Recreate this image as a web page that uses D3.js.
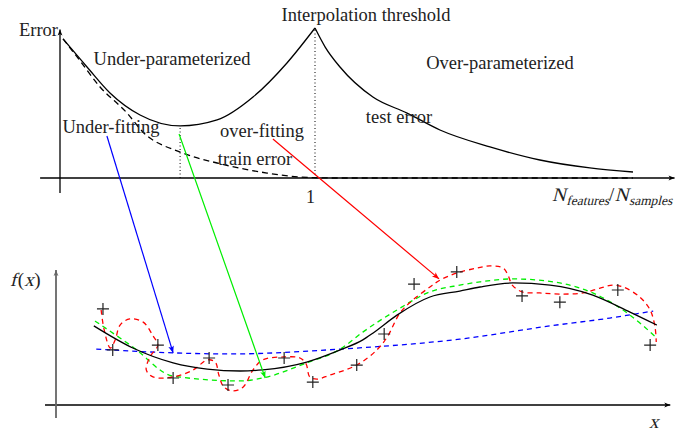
<!DOCTYPE html>
<html><head><meta charset="utf-8">
<script src="https://cdn.jsdelivr.net/npm/d3@7"></script>
<style>body{margin:0;background:#fff}svg{display:block}</style>
</head><body><svg id="c" width="684" height="431"></svg>
<script>
// ---------- Top panel data (x = N_features/N_samples, y = error) ----------
const testLeftX  = [0.012, 0.106, 0.196, 0.314, 0.471, 0.616, 0.757, 0.890, 1.0];
const testLeftY  = [0.927, 0.740, 0.567, 0.420, 0.347, 0.387, 0.540, 0.767, 1.0];
const testRightX = [1.0, 1.04, 1.098, 1.227, 1.361, 1.490, 1.686, 1.882, 2.078, 2.247];
const testRightY = [1.0, 0.873, 0.740, 0.540, 0.433, 0.320, 0.207, 0.120, 0.067, 0.040];
const trainX = [0.012, 0.067, 0.157, 0.263, 0.325, 0.471, 0.616, 0.812, 0.941, 1.07, 2.247];
const trainY = [0.927, 0.807, 0.607, 0.433, 0.307, 0.173, 0.100, 0.033, 0.007, 0.0, 0.0];
const topTicks = [1];
const optimumX = 0.471, optimumY = 0.347;

// ---------- Bottom panel data (x, f(x)) ----------
const pointsX = [0.77, 0.93, 1.67, 1.92, 2.51, 2.82, 3.74, 4.21, 4.93, 5.38, 5.87, 6.57, 7.64, 8.26, 9.21, 9.74];
const pointsY = [3.56, 2.04, 2.22, 1.00, 1.74, 0.74, 1.74, 0.85, 1.48, 2.63, 4.48, 4.93, 4.04, 3.81, 4.26, 2.22];

const trueX = [0.62, 1.26, 1.92, 2.48, 3.02, 3.39, 4.11, 4.66, 5.03, 5.20, 5.59, 6.13, 6.62, 6.95, 7.49, 8.10, 8.80, 9.41, 9.85];
const trueY = [2.93, 2.11, 1.56, 1.33, 1.26, 1.30, 1.59, 2.04, 2.41, 2.67, 3.33, 4.00, 4.22, 4.37, 4.52, 4.44, 4.07, 3.44, 2.96];

const underX = [0.66, 1.92, 2.85, 4.66, 6.62, 8.10, 9.08, 9.79];
const underY = [2.07, 1.93, 1.89, 2.07, 2.44, 2.93, 3.22, 3.48];

const goodX = [0.64, 1.26, 1.92, 3.02, 3.39, 4.11, 4.66, 5.03, 5.59, 6.13, 6.62, 6.95, 7.49, 8.26, 8.80, 9.41, 9.85];
const goodY = [3.11, 2.15, 1.07, 0.89, 1.00, 1.56, 2.07, 2.70, 3.52, 4.19, 4.44, 4.56, 4.67, 4.52, 4.15, 3.33, 2.48];

const overX = [0.74, 0.79, 0.89, 0.97, 1.05, 1.21, 1.43, 1.59, 1.67, 1.54, 1.48, 1.59, 1.92, 2.25, 2.48, 2.61, 2.67, 2.75, 2.90, 3.07, 3.23, 3.39, 3.74, 4.00, 4.10, 4.16, 4.28, 4.49, 4.93, 5.26, 5.43, 5.64, 5.85, 6.13, 6.30, 6.57, 6.90, 7.11, 7.33, 7.41, 7.48, 7.64, 7.93, 8.26, 8.64, 8.92, 9.13, 9.30, 9.57, 9.74, 9.82, 9.84];
const overY = [3.52, 2.78, 2.11, 2.41, 2.96, 3.19, 3.07, 2.56, 2.22, 1.78, 1.30, 1.04, 1.04, 1.30, 1.67, 1.59, 1.11, 0.67, 0.52, 0.67, 1.30, 1.67, 1.78, 1.74, 1.52, 1.04, 0.96, 1.11, 1.48, 2.04, 2.52, 3.41, 3.89, 4.37, 4.63, 4.89, 5.07, 5.15, 5.07, 4.81, 4.44, 4.19, 4.15, 4.11, 4.15, 4.33, 4.44, 4.37, 4.00, 3.52, 2.89, 2.33];

// annotation arrows: start in top-panel units, end in bottom-panel units
const arrowNames = ["under", "good", "over"];
const arrowStartX = [0.184, 0.467, 0.835];
const arrowStartY = [0.280, 0.293, 0.260];
const arrowEndX = [1.92, 3.43, 6.28];
const arrowEndY = [1.93, 1.00, 4.67];

// ---------- drawing ----------
const svg = d3.select("#c");
const xT = d3.scaleLinear().domain([0, 2.4]).range([60, 672]);
const yT = d3.scaleLinear().domain([0, 1]).range([178, 28]);
const xB = d3.scaleLinear().domain([0, 10]).range([56, 666]);
const yB = d3.scaleLinear().domain([0, 5]).range([405, 270]);

const colors = {under: "#0000ff", good: "#00ee00", over: "#ff0000", black: "#000"};
const defs = svg.append("defs");
function marker(id, col, w, h) {
  defs.append("marker").attr("id", id).attr("viewBox", "0 -5 10 10")
    .attr("refX", 10).attr("refY", 0).attr("markerWidth", w).attr("markerHeight", h)
    .attr("markerUnits", "userSpaceOnUse").attr("orient", "auto")
    .append("path").attr("d", "M0,-4L10,0L0,4L2.5,0Z").attr("fill", col);
}
marker("ax", "#000", 8, 6);
marker("axg", "#666", 8, 6);
marker("a-under", colors.under, 9, 7);
marker("a-good", colors.good, 9, 7);
marker("a-over", colors.over, 9, 7);

const zipT = (xs, ys) => xs.map((x, i) => [x, ys[i]]);

// top axes
svg.append("line").attr("x1", xT(-0.078)).attr("x2", xT(2.41)).attr("y1", yT(0)).attr("y2", yT(0))
  .attr("stroke", "#000").attr("stroke-width", 1.3).attr("marker-end", "url(#ax)");
svg.append("line").attr("x1", xT(0)).attr("x2", xT(0)).attr("y1", yT(-0.1)).attr("y2", yT(0.99))
  .attr("stroke", "#000").attr("stroke-width", 1.3).attr("marker-end", "url(#ax)");

const topAxis = d3.axisBottom(xT).tickValues(topTicks).tickSize(0).tickPadding(0).tickFormat(d3.format("d"));
const gA = svg.append("g").attr("transform", `translate(-5,${yT(0) + 12})`).call(topAxis);
gA.select(".domain").remove();
gA.selectAll("text").attr("font-family", "Liberation Serif, serif").attr("font-size", 18).attr("fill", "#222");

// dotted verticals
svg.append("line").attr("x1", xT(optimumX)).attr("x2", xT(optimumX)).attr("y1", yT(0)).attr("y2", yT(optimumY))
  .attr("stroke", "#000").attr("stroke-width", 1).attr("stroke-dasharray", "1,2.5");
svg.append("line").attr("x1", xT(1)).attr("x2", xT(1)).attr("y1", yT(0)).attr("y2", yT(1))
  .attr("stroke", "#000").attr("stroke-width", 1).attr("stroke-dasharray", "1,2.5");

const lineT = d3.line().x(d => xT(d[0])).y(d => yT(d[1])).curve(d3.curveMonotoneX);
svg.append("path").attr("d", lineT(zipT(testLeftX, testLeftY))).attr("fill", "none").attr("stroke", "#000").attr("stroke-width", 1.3);
svg.append("path").attr("d", lineT(zipT(testRightX, testRightY))).attr("fill", "none").attr("stroke", "#000").attr("stroke-width", 1.3);
svg.append("path").attr("d", lineT(zipT(trainX, trainY))).attr("fill", "none").attr("stroke", "#000").attr("stroke-width", 1.3)
  .attr("stroke-dasharray", "6,4");

// bottom axes
svg.append("line").attr("x1", xB(-0.18)).attr("x2", xB(10.07)).attr("y1", yB(0)).attr("y2", yB(0))
  .attr("stroke", "#000").attr("stroke-width", 1.3).attr("marker-end", "url(#ax)");
svg.append("line").attr("x1", xB(0)).attr("x2", xB(0)).attr("y1", yB(-0.48)).attr("y2", yB(5.0))
  .attr("stroke", "#666").attr("stroke-width", 1.8).attr("marker-end", "url(#axg)");

const lineB = d3.line().x(d => xB(d[0])).y(d => yB(d[1]));
function curveB(xs, ys, col, curve, dash) {
  svg.append("path").attr("d", lineB.curve(curve)(zipT(xs, ys))).attr("fill", "none")
    .attr("stroke", col).attr("stroke-width", 1.3).attr("stroke-dasharray", dash);
}
curveB(underX, underY, colors.under, d3.curveMonotoneX, "5,4");
curveB(goodX, goodY, colors.good, d3.curveMonotoneX, "5,4");
curveB(overX, overY, colors.over, d3.curveCatmullRom.alpha(0.5), "5,4");
curveB(trueX, trueY, colors.black, d3.curveMonotoneX, null);

// data points (crosses)
svg.append("g").selectAll("path").data(zipT(pointsX, pointsY)).join("path")
  .attr("transform", d => `translate(${xB(d[0])},${yB(d[1])})`)
  .attr("d", "M-6,0H6M0,-6V6").attr("stroke", "#222").attr("stroke-width", 1.2).attr("fill", "none");

// annotation arrows
arrowNames.forEach((n, i) => {
  svg.append("line").attr("x1", xT(arrowStartX[i])).attr("y1", yT(arrowStartY[i]))
    .attr("x2", xB(arrowEndX[i])).attr("y2", yB(arrowEndY[i]))
    .attr("stroke", colors[n]).attr("stroke-width", 1.2).attr("marker-end", `url(#a-${n})`);
});

// text labels
const font = "Liberation Serif, serif";
function label(t, x, y, anchor = "start", size = 18.5) {
  return svg.append("text").attr("x", x).attr("y", y).attr("text-anchor", anchor)
    .attr("font-family", font).attr("font-size", size).attr("fill", "#222").text(t);
}
label("Error", 58, 36, "end");
label("Interpolation threshold", 366, 21, "middle");
label("Under-parameterized", 172, 65, "middle");
label("Over-parameterized", 500, 69, "middle");
label("Under-fitting", 111, 133, "middle");
label("over-fitting", 262, 137, "middle");
label("train error", 255, 165, "middle");
label("test error", 399, 123, "middle");

// math labels: serif glyphs slanted to imitate math italic
function mathText(parts, x, y) {
  let cx = x;
  parts.forEach(p => {
    const t = svg.append("text")
      .attr("transform", `translate(${cx},${y + (p.dy || 0)})` + (p.it ? " skewX(-14)" : ""))
      .attr("font-family", font).attr("font-size", p.size).attr("fill", "#222").text(p.t);
    cx += t.node().getComputedTextLength() + (p.gap || 0);
  });
}
mathText([
  {t: "N", it: true, size: 19, gap: 0.5},
  {t: "features", it: true, size: 13.5, dy: 4},
  {t: "/", it: false, size: 19, gap: 0.5},
  {t: "N", it: true, size: 19, gap: 0.5},
  {t: "samples", it: true, size: 13.5, dy: 4}
], 552, 201);
mathText([
  {t: "f", it: true, size: 19, gap: 1.5},
  {t: "(", it: false, size: 19},
  {t: "x", it: true, size: 19, gap: 0.5},
  {t: ")", it: false, size: 19}
], 10, 286);
mathText([{t: "x", it: true, size: 19}], 649, 428);
</script></body></html>
